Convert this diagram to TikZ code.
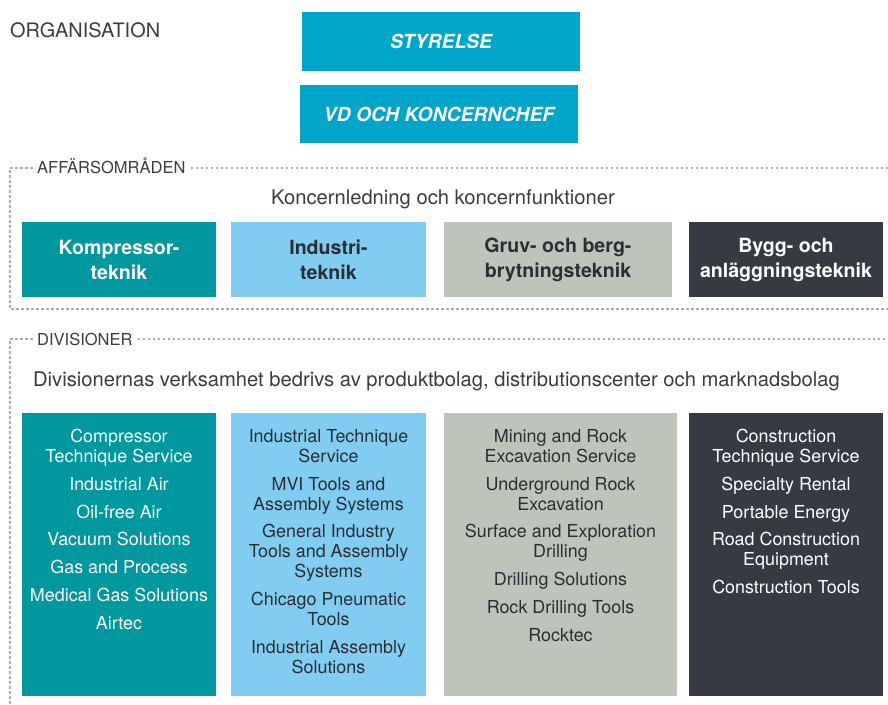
\documentclass[tikz,border=0pt]{standalone}
\usepackage{fontspec}
\setmainfont{TeX Gyre Heros}
\definecolor{cyanbox}{HTML}{00A6CA}
\definecolor{tealbox}{HTML}{00989F}
\definecolor{lightbox}{HTML}{80CDF1}
\definecolor{greybox}{HTML}{BDC5BA}
\definecolor{darkbox}{HTML}{363A43}
\definecolor{darktext}{HTML}{2B2E35}
\definecolor{labeltext}{HTML}{3C3C3C}
\definecolor{dotgrey}{HTML}{ADADAD}
\begin{document}
\begin{tikzpicture}[x=1pt,y=-1pt,
  box/.style={draw=none,inner sep=0pt,outer sep=0pt,anchor=north west},
  topbox/.style={box,fill=cyanbox,text=white,font={\fontsize{19.4}{22}\selectfont\bfseries\itshape}},
  areabox/.style={box,align=center,minimum height=75pt,font={\fontsize{19.6}{25}\selectfont\bfseries}},
  divbox/.style={box,minimum height=283pt},
  divtext/.style={anchor=north,inner sep=0pt,align=center,font={\fontsize{17.9}{20}\selectfont}},
  framestyle/.style={draw=dotgrey,line width=1.1pt,dash pattern=on 2.6pt off 2.4pt},
  seclabel/.style={anchor=base west,inner sep=0pt,text=labeltext,font={\fontsize{16.5}{18}\selectfont}},
  subtitle/.style={anchor=base,inner sep=0pt,text=labeltext,font={\fontsize{20.2}{22}\selectfont}}]
\useasboundingbox (0,0) rectangle (888,704);

% heading
\node[anchor=base west,inner sep=0pt,text=labeltext,font={\fontsize{19.9}{22}\selectfont}] (org) at (10,37) {ORGANISATION};

% top boxes
\node[topbox,minimum width=278pt,minimum height=59pt] (styrelse) at (302,12) {STYRELSE};
\node[topbox,minimum width=278pt,minimum height=58pt] (vd) at (300,85) {VD OCH KONCERNCHEF};

% section 1 frame
\coordinate (s1tl) at (10,168);
\coordinate (s1tr) at (888,168);
\coordinate (s1bl) at (10,309);
\coordinate (s1br) at (888,309);
\node[seclabel] (lab1) at (37,173.9) {AFFÄRSOMRÅDEN};
\draw[framestyle] (lab1.west |- s1tl) ++(-4,0) -- (s1tl) -- (s1bl) -- (s1br);
\draw[framestyle] ([xshift=5pt]lab1.east |- s1tl) -- (s1tr);

\node[subtitle] (sub1) at (443,204.5) {Koncernledning och koncernfunktioner};

% business areas
\node[areabox,fill=tealbox,text=white,minimum width=194pt] (a1) at (22,222) {Kompressor-\\teknik};
\node[areabox,fill=lightbox,text=darktext,minimum width=195pt] (a2) at (231,222) {Industri-\\teknik};
\node[areabox,fill=greybox,text=darktext,minimum width=228pt] (a3) at (444,222) {Gruv- och berg-\\brytningsteknik};
\node[areabox,fill=darkbox,text=white,minimum width=194pt] (a4) at (689,222) {Bygg- och\\anläggningsteknik};

% section 2 frame
\coordinate (s2tl) at (10,339);
\coordinate (s2tr) at (888,339);
\coordinate (s2bl) at (10,704);
\node[seclabel] (lab2) at (37,345) {DIVISIONER};
\draw[framestyle] (lab2.west |- s2tl) ++(-4,0) -- (s2tl) -- (s2bl);
\draw[framestyle] ([xshift=5pt]lab2.east |- s2tl) -- (s2tr);

\node[subtitle] (sub2) at (436.5,386.5) {Divisionernas verksamhet bedrivs av produktbolag, distributionscenter och marknadsbolag};

% divisions
\node[divbox,fill=tealbox,minimum width=194pt] (d1) at (22,413) {};
\node[divbox,fill=lightbox,minimum width=195pt] (d2) at (231,413) {};
\node[divbox,fill=greybox,minimum width=233pt] (d3) at (444,413) {};
\node[divbox,fill=darkbox,minimum width=194pt] (d4) at (689,413) {};

\node[divtext,text=white] (t1) at ([yshift=-16.3pt]d1.north) {Compressor\\Technique Service\\[7.7pt]Industrial Air\\[7.7pt]Oil-free Air\\[7.7pt]Vacuum Solutions\\[7.7pt]Gas and Process\\[7.7pt]Medical Gas Solutions\\[7.7pt]Airtec};
\node[divtext,text=darktext] (t2) at ([yshift=-16.3pt]d2.north) {Industrial Technique\\Service\\[7.7pt]MVI Tools and\\Assembly Systems\\[7.7pt]General Industry\\Tools and Assembly\\Systems\\[7.7pt]Chicago Pneumatic\\Tools\\[7.7pt]Industrial Assembly\\Solutions};
\node[divtext,text=darktext] (t3) at ([yshift=-16.3pt]d3.north) {Mining and Rock\\Excavation Service\\[7.7pt]Underground Rock\\Excavation\\[7.7pt]Surface and Exploration\\Drilling\\[7.7pt]Drilling Solutions\\[7.7pt]Rock Drilling Tools\\[7.7pt]Rocktec};
\node[divtext,text=white] (t4) at ([yshift=-16.3pt]d4.north) {Construction\\Technique Service\\[7.7pt]Specialty Rental\\[7.7pt]Portable Energy\\[7.7pt]Road Construction\\Equipment\\[7.7pt]Construction Tools};
\end{tikzpicture}
\end{document}
